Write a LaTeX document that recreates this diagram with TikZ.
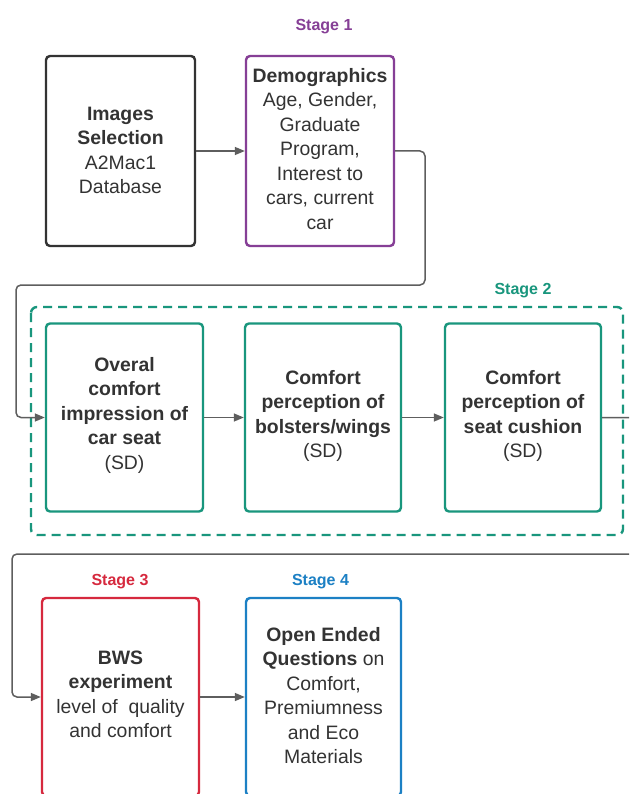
\documentclass[tikz,border=0pt]{standalone}
\usepackage{fontspec}
\setmainfont{Liberation Sans}
\usetikzlibrary{arrows.meta}
\definecolor{txt}{RGB}{51,51,51}
\definecolor{cdark}{RGB}{51,51,51}
\definecolor{cpurple}{RGB}{134,63,150}
\definecolor{cteal}{RGB}{25,150,125}
\definecolor{cred}{RGB}{214,41,62}
\definecolor{cblue}{RGB}{28,128,196}
\definecolor{cconn}{RGB}{94,94,94}
\tikzset{
  boxnode/.style={draw=#1, line width=2.4pt, rounded corners=4pt, inner sep=0pt},
  boxtext/.style={inner sep=0pt, align=center, text=txt,
    font=\fontsize{19.4}{24.5}\selectfont},
  stagelabel/.style={text=#1, font=\fontsize{16}{19}\selectfont\bfseries,
    inner sep=0pt, anchor=base},
  conn/.style={draw=cconn, line width=1.5pt, rounded corners=5pt,
    -{Triangle[length=10pt,width=8pt]}},
}
\begin{document}
\begin{tikzpicture}[x=1pt,y=-1pt]
\useasboundingbox (0,0) rectangle (629,794);
\clip (0,0) rectangle (629,794);
\fill[white] (0,0) rectangle (629,794);

% Stage 1 row
\node[stagelabel=cpurple] (st1) at (324,30.5) {Stage 1};
\node[boxnode=cdark, minimum width=149pt, minimum height=190pt] (img) at (120.5,151) {};
\node[boxtext] (imgT) at ([yshift=0.5pt]img.center)
  {\textbf{Images}\\\textbf{Selection}\\A2Mac1\\Database};
\node[boxnode=cpurple, minimum width=148pt, minimum height=190pt] (demo) at (320,151) {};
\node[boxtext] (demoT) at ([yshift=2pt]demo.center)
  {\textbf{Demographics}\\Age, Gender,\\Graduate\\Program,\\Interest to\\cars, current\\car};
\draw[conn] (img.east) -- (demo.west);

% Stage 2
\draw[cteal, line width=2.4pt, dash pattern=on 9pt off 6pt, rounded corners=6pt]
  (31,307) rectangle (623,535);
\node[stagelabel=cteal] (st2) at (523,294.3) {Stage 2};
\node[boxnode=cteal, minimum width=157pt, minimum height=188pt] (o1) at (124.5,417.5) {};
\node[boxtext] (o1T) at ([yshift=2.5pt]o1.center)
  {\textbf{Overal}\\\textbf{comfort}\\\textbf{impression of}\\\textbf{car seat}\\(SD)};
\node[boxnode=cteal, minimum width=156pt, minimum height=188pt] (o2) at (323,417.5) {};
\node[boxtext] (o2T) at ([yshift=1.5pt]o2.center)
  {\textbf{Comfort}\\\textbf{perception of}\\\textbf{bolsters/wings}\\(SD)};
\node[boxnode=cteal, minimum width=156pt, minimum height=188pt] (o3) at (523,417.5) {};
\node[boxtext] (o3T) at ([yshift=1.5pt]o3.center)
  {\textbf{Comfort}\\\textbf{perception of}\\\textbf{seat cushion}\\(SD)};
\draw[conn] (demo.east) -- (425,151) -- (425,285) -- (16,285) -- (16,417.5) -- (o1.west);
\draw[conn] (o1.east) -- (o2.west);
\draw[conn] (o2.east) -- (o3.west);

% Stage 3 and 4
\node[stagelabel=cred] (st3) at (120,585) {Stage 3};
\node[stagelabel=cblue] (st4) at (320.5,585) {Stage 4};
\node[boxnode=cred, minimum width=157pt, minimum height=198pt] (s3) at (120.5,697) {};
\node[boxtext] (s3T) at ([yshift=2.5pt]s3.center)
  {\textbf{BWS}\\\textbf{experiment}\\level of\ \ quality\\and comfort};
\node[boxnode=cblue, minimum width=155pt, minimum height=198pt] (s4) at (323.5,697) {};
\node[boxtext] (s4T) at ([yshift=1.5pt]s4.center)
  {\textbf{Open Ended}\\\textbf{Questions} on\\Comfort,\\Premiumness\\and Eco\\Materials};
\draw[conn] (o3.east) -- (660,417.5) -- (660,554) -- (12,554) -- (12,697) -- (s3.west);
\draw[conn] (s3.east) -- (s4.west);
\end{tikzpicture}
\end{document}
